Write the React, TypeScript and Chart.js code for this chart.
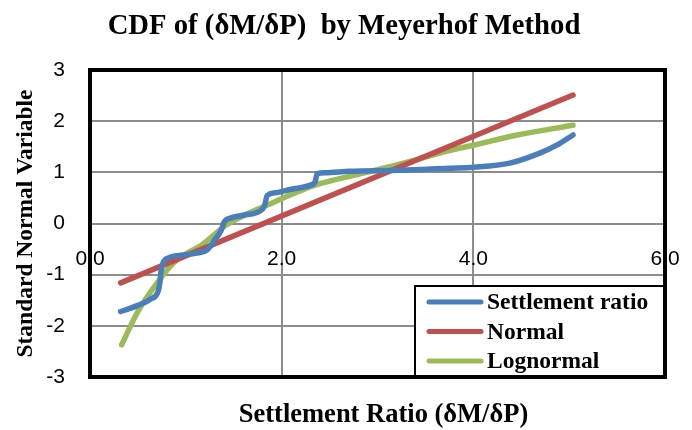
import { useEffect, useRef } from "react";
import { Chart, registerables } from "chart.js";

Chart.register(...registerables);

// Empirical settlement ratio CDF (x = δM/δP, y = standard normal variable)
const ratioX = [0.32, 0.5, 0.63, 0.71, 0.73, 0.74, 0.76, 0.82, 0.95, 1.11, 1.22, 1.31, 1.37, 1.4, 1.47, 1.62, 1.76, 1.82, 1.85, 1.93, 2.1, 2.3, 2.35, 2.37, 2.45, 2.71, 3.24, 3.74, 4.0, 4.38, 4.7, 4.87, 5.04];
const ratioY = [-1.72, -1.6, -1.48, -1.33, -1.15, -0.95, -0.78, -0.67, -0.62, -0.58, -0.52, -0.3, -0.13, 0.03, 0.11, 0.17, 0.23, 0.34, 0.55, 0.6, 0.67, 0.75, 0.82, 0.97, 0.99, 1.02, 1.04, 1.08, 1.1, 1.18, 1.38, 1.53, 1.73];

// Fitted normal distribution
const normalX = [0.32, 5.04];
const normalY = [-1.16, 2.51];

// Fitted lognormal distribution
const lognormalX = [0.33, 0.5, 0.7, 0.87, 1.04, 1.15, 1.43, 1.85, 2.35, 2.82, 3.31, 3.74, 4.0, 4.46, 5.04];
const lognormalY = [-2.37, -1.72, -1.16, -0.77, -0.55, -0.44, -0.02, 0.36, 0.75, 0.97, 1.2, 1.42, 1.53, 1.73, 1.92];

const seriesNames = ["Settlement ratio", "Normal", "Lognormal"];

const xTickValues = [0, 2, 4, 6];
const xTickLabels = ["0.0", "2.0", "4.0", "6.0"];
const yTickValues = [-3, -2, -1, 0, 1, 2, 3];
const yTickLabels = ["-3", "-2", "-1", "0", "1", "2", "3"];

const chartTitle = "CDF of (δM/δP)  by Meyerhof Method";
const xAxisTitle = "Settlement Ratio (δM/δP)";
const yAxisTitle = "Standard Normal Variable";

const BLUE = "#4a7ebb";
const RED = "#c0504d";
const GREEN = "#9bbb59";
const SERIF = "'Liberation Serif', 'Times New Roman', serif";
const SANS = "'Liberation Sans', Arial, sans-serif";

const toPoints = (xs: number[], ys: number[]) => xs.map((x, i) => ({ x, y: ys[i] }));

// Chart heading and x-axis caption, placed relative to the plot area
const headings = {
  id: "headings",
  afterDraw(chart: any) {
    const { ctx, chartArea: ca } = chart;
    ctx.save();
    ctx.fillStyle = "#000000";
    ctx.textAlign = "center";
    ctx.textBaseline = "middle";
    ctx.font = `bold 28.7px ${SERIF}`;
    ctx.fillText(chartTitle, 344, ca.top - 43);
    ctx.font = `bold 26.5px ${SERIF}`;
    ctx.fillText(xAxisTitle, (ca.left + ca.right) / 2 + 6, ca.bottom + 38);
    ctx.restore();
  },
};

// Legend box in the lower-right corner of the plot, then the heavy plot frame on top
const frameAndLegend = {
  id: "frameAndLegend",
  afterDraw(chart: any) {
    const { ctx, chartArea: ca } = chart;
    const boxW = 250;
    const boxH = 91;
    const left = ca.right - boxW;
    const top = ca.bottom - boxH;
    ctx.save();
    ctx.fillStyle = "#ffffff";
    ctx.fillRect(left, top, boxW, boxH);
    ctx.strokeStyle = "#000000";
    ctx.lineWidth = 2;
    ctx.strokeRect(left, top, boxW, boxH);
    ctx.font = `bold 23.5px ${SERIF}`;
    ctx.textBaseline = "middle";
    ctx.textAlign = "left";
    chart.data.datasets.forEach((ds: any, i: number) => {
      const y = top + 16 + i * 29.5;
      ctx.beginPath();
      ctx.lineCap = "round";
      ctx.lineWidth = 5;
      ctx.strokeStyle = ds.borderColor;
      ctx.moveTo(left + 14, y);
      ctx.lineTo(left + 66, y);
      ctx.stroke();
      ctx.fillStyle = "#000000";
      ctx.fillText(ds.label, left + 72, y + 1);
    });
    ctx.lineCap = "butt";
    ctx.strokeStyle = "#000000";
    ctx.lineWidth = 4;
    ctx.strokeRect(ca.left, ca.top, ca.right - ca.left, ca.bottom - ca.top);
    ctx.restore();
  },
};

export default function App() {
  const canvasRef = useRef<HTMLCanvasElement>(null);

  useEffect(() => {
    const canvas = canvasRef.current;
    if (!canvas) return;
    const lineStyle = {
      pointRadius: 0,
      borderWidth: 5.5,
      borderCapStyle: "round" as const,
      borderJoinStyle: "round" as const,
      fill: false,
    };
    const chart = new Chart(canvas, {
      type: "line",
      data: {
        datasets: [
          { ...lineStyle, label: seriesNames[0], data: toPoints(ratioX, ratioY), borderColor: BLUE, backgroundColor: BLUE, cubicInterpolationMode: "monotone" },
          { ...lineStyle, label: seriesNames[1], data: toPoints(normalX, normalY), borderColor: RED, backgroundColor: RED, tension: 0 },
          { ...lineStyle, label: seriesNames[2], data: toPoints(lognormalX, lognormalY), borderColor: GREEN, backgroundColor: GREEN, cubicInterpolationMode: "monotone" },
        ],
      },
      options: {
        responsive: false,
        animation: false,
        layout: { padding: { left: 0, right: 27, top: 70, bottom: 53 } },
        plugins: {
          legend: { display: false },
          tooltip: { enabled: false },
          title: { display: false },
        },
        scales: {
          x: {
            type: "linear",
            min: 0,
            max: 6,
            position: { y: 0 },
            border: { display: false },
            grid: { color: "#8c8c8c", lineWidth: 2, drawTicks: false },
            ticks: {
              stepSize: 2,
              padding: 23,
              color: "#000000",
              font: { family: SANS, size: 21 },
              callback: (v: any) => xTickLabels[xTickValues.indexOf(Number(v))] ?? "",
            },
            afterFit: (scale: any) => {
              scale.paddingLeft = 0;
              scale.paddingRight = 0;
            },
          },
          y: {
            type: "linear",
            min: -3,
            max: 3,
            border: { display: false },
            grid: { color: "#8c8c8c", lineWidth: 2, drawTicks: false },
            ticks: {
              stepSize: 1,
              padding: 25,
              color: "#000000",
              font: { family: SANS, size: 21 },
              callback: (v: any) => yTickLabels[yTickValues.indexOf(Number(v))] ?? "",
            },
            title: {
              display: true,
              text: yAxisTitle,
              color: "#000000",
              font: { family: SERIF, size: 23.5, weight: "bold" },
              padding: { top: 12, bottom: 0 },
            },
            afterFit: (scale: any) => {
              scale.width = 90;
            },
          },
        },
      },
      plugins: [headings, frameAndLegend],
    } as any);
    return () => chart.destroy();
  }, []);

  return (
    <div style={{ position: "fixed", left: 0, top: 0, width: 692, height: 430, background: "#ffffff" }}>
      <canvas ref={canvasRef} width={692} height={430} style={{ display: "block" }} />
    </div>
  );
}
